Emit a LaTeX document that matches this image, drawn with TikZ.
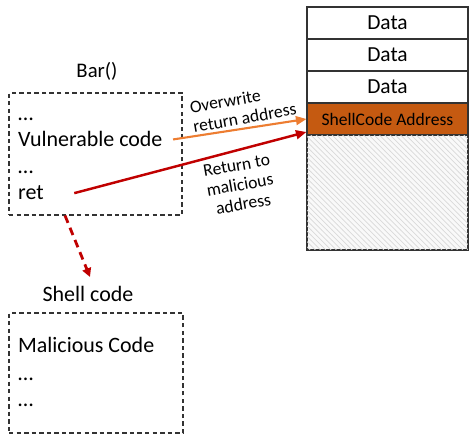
\documentclass[tikz,border=0pt]{standalone}
\usepackage{fontspec}
\setmainfont{Carlito}
\usepackage{tikz}
\usetikzlibrary{calc,positioning,arrows.meta,patterns}
\definecolor{ovrcol}{HTML}{ED7D31}
\definecolor{retcol}{HTML}{C00000}
\definecolor{adrcol}{HTML}{C55A11}

\begin{document}
\begin{tikzpicture}[x=0.02cm, y=-0.02cm, lbl/.style={inner sep=1pt, font=\fontsize{10}{11.2}\selectfont}]
\tikzstyle{cell}=[draw=black!80, line width=0.6pt, minimum width=3.22cm, minimum height=0.64cm, inner sep=0pt, font=\fontsize{12.2}{14}\selectfont]
\tikzstyle{box}=[draw=black!80, line width=0.6pt, dash pattern=on 2.5pt off 1.8pt, inner sep=0pt]
\tikzstyle{txt}=[anchor=base west, inner sep=3pt, font=\fontsize{12.5}{15}\selectfont]
\useasboundingbox (0,0) rectangle (474,446);
% stack
\foreach \n/\y in {d1/23,d2/55,d3/87}{\node[cell] (\n) at (387.5,\y) {Data};}
\node[cell, fill=adrcol, font=\fontsize{10}{12}\selectfont] (sca) at (387.5,119) {ShellCode Address};
\node[cell, minimum height=2.3cm, fill=gray!5, postaction={pattern=north west lines, pattern color=gray!30}] (free) at (387.5,192.5) {};
% Bar()
\node[txt, anchor=base, font=\fontsize{11.8}{14}\selectfont] (bart) at (97,78) {Bar()};
\node[box, minimum width=3.46cm, minimum height=2.44cm] (bar) at (95.5,154) {};
\node[txt] (l1) at (12.5,121) {…};
\node[txt] (vc) at (12.5,147) {Vulnerable code};
\node[txt] (l2) at (12.5,174) {…};
\node[txt] (ret) at (12.5,200) {ret};
% Shell code
\node[txt, anchor=base] (sct) at (88,302) {Shell code};
\node[box, minimum width=3.48cm, minimum height=2.4cm] (shell) at (96,373) {};
\node[txt] (mc) at (12.5,353) {Malicious Code};
\node[txt] (l3) at (12.5,380) {…};
\node[txt] (l4) at (12.5,406) {…};
% arrows
\node[lbl, rotate=10, align=left] (ow) at (243,108) {Overwrite\\return address};
\node[lbl, rotate=10, align=center] (rm) at (240,185) {Return to\\malicious\\address};
\coordinate (jmp) at (90,277);
\draw[ovrcol, line width=1.2pt, -{Triangle[length=6pt,width=5pt]}] ([xshift=0.1cm]vc.east) -- (sca.west);
\draw[retcol, line width=1.4pt, -{Triangle[length=6pt,width=5pt]}] ([xshift=0.5cm]ret.east) -- ([yshift=-0.26cm]sca.west);
\draw[retcol, line width=1.6pt, dash pattern=on 4.5pt off 3pt, -{Triangle[length=5pt,width=5pt]}] ([xshift=-0.61cm]bar.south) -- (jmp);
\end{tikzpicture}
\end{document}
